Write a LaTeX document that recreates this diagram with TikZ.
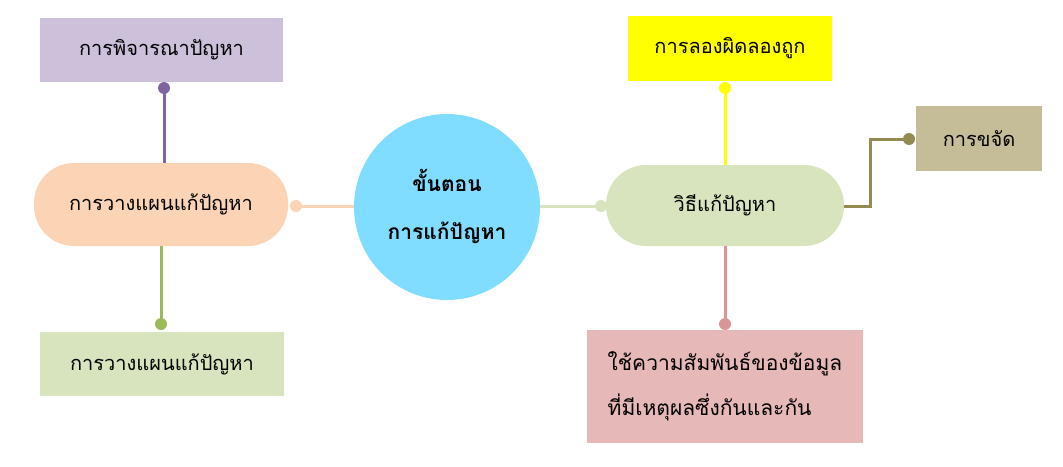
\documentclass[tikz,border=0pt]{standalone}
\usepackage{fontspec}
\setmainfont[Script=Thai]{Loma}
\definecolor{purpfill}{HTML}{CCC0DA}
\definecolor{purpline}{HTML}{8064A2}
\definecolor{peach}{HTML}{FAD4B4}
\definecolor{cyanc}{HTML}{80DDFF}
\definecolor{greenfill}{HTML}{D7E4BD}
\definecolor{greenline}{HTML}{9BBB59}
\definecolor{yel}{HTML}{FFFF00}
\definecolor{khaki}{HTML}{C4BD97}
\definecolor{olive}{HTML}{948A54}
\definecolor{pinkfill}{HTML}{E6B9B8}
\definecolor{pinkline}{HTML}{D99694}
\begin{document}
\begin{tikzpicture}[x=1pt,y=-1pt,
  txt/.style={font=\fontsize{20}{24}\selectfont, text=black},
  box/.style={txt, rectangle, inner sep=0pt, draw=none},
  pill/.style={box, rounded corners=40pt},
  dotnode/.style={circle, inner sep=0pt, minimum size=12pt, draw=none},
  conn/.style={line width=3pt}
]
\useasboundingbox (0,0) rectangle (1063,466);
% nodes
\node[box, fill=purpfill, minimum width=243pt, minimum height=64pt] (pb) at (161.5,50) {การพิจารณาปัญหา};
\node[pill, fill=peach, minimum width=254pt, minimum height=83pt] (pp) at (161,204.5) {การวางแผนแก้ปัญหา};
\node[box, fill=greenfill, minimum width=244pt, minimum height=64pt] (gb) at (162,364) {การวางแผนแก้ปัญหา};
\node[circle, fill=cyanc, minimum size=186pt, inner sep=0pt, align=center,
      font=\bfseries\fontsize{21}{48}\selectfont] (c) at (447,207) {ขั้นตอน\\การแก้ปัญหา};
\node[box, fill=yel, minimum width=204pt, minimum height=65pt] (yb) at (730,48.5) {การลองผิดลองถูก};
\node[pill, fill=greenfill, minimum width=238pt, minimum height=81pt] (gp) at (725,205.5) {วิธีแก้ปัญหา};
\node[box, fill=khaki, minimum width=126pt, minimum height=65pt] (kb) at (979,138.5) {การขจัด};
\node[box, fill=pinkfill, minimum width=276pt, minimum height=113pt, align=left,
      font=\fontsize{21}{45}\selectfont] (pk) at (725,386.5) {ใช้ความสัมพันธ์ของข้อมูล\\ที่มีเหตุผลซึ่งกันและกัน};
% dots
\node[dotnode, fill=purpline] (d1) at (164,88) {};
\node[dotnode, fill=peach] (d2) at (296,206) {};
\node[dotnode, fill=greenline] (d3) at (161,324) {};
\node[dotnode, fill=greenfill] (d4) at (601,206) {};
\node[dotnode, fill=yel] (d5) at (725,88) {};
\node[dotnode, fill=olive] (d6) at (909,139) {};
\node[dotnode, fill=pinkline] (d7) at (725,324) {};
\coordinate (bend) at (870,206);
% connectors
\draw[conn, purpline] (d1.center) -- (pp.north -| d1);
\draw[conn, peach] (d2.center) -- (d2 -| c.west);
\draw[conn, greenline] (d3.center) -- (pp.south -| d3);
\draw[conn, greenfill] (d4 -| c.east) -- (d4.center);
\draw[conn, yel] (d5.center) -- (gp.north -| d5);
\draw[conn, pinkline] (d7.center) -- (gp.south -| d7);
\draw[conn, olive] (gp.east |- bend) -- (bend) |- (d6.center);
\end{tikzpicture}
\end{document}
